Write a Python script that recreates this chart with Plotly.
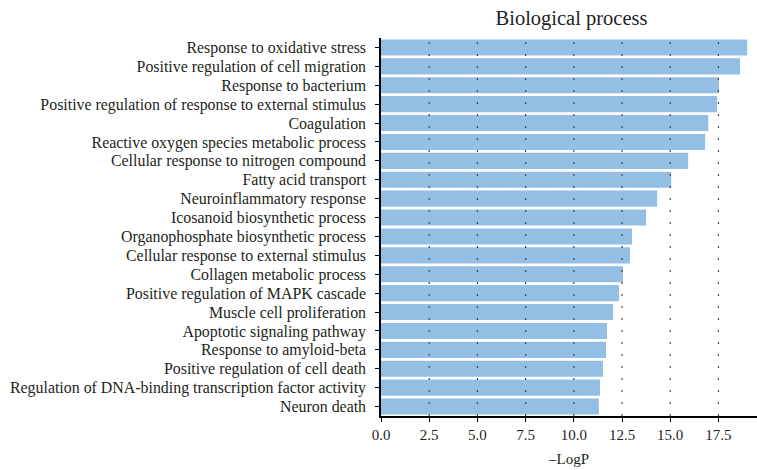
import plotly.graph_objects as go

categories = [
    "Response to oxidative stress",
    "Positive regulation of cell migration",
    "Response to bacterium",
    "Positive regulation of response to external stimulus",
    "Coagulation",
    "Reactive oxygen species metabolic process",
    "Cellular response to nitrogen compound",
    "Fatty acid transport",
    "Neuroinflammatory response",
    "Icosanoid biosynthetic process",
    "Organophosphate biosynthetic process",
    "Cellular response to external stimulus",
    "Collagen metabolic process",
    "Positive regulation of MAPK cascade",
    "Muscle cell proliferation",
    "Apoptotic signaling pathway",
    "Response to amyloid-beta",
    "Positive regulation of cell death",
    "Regulation of DNA-binding transcription factor activity",
    "Neuron death",
]
neg_log_p = [18.99, 18.62, 17.53, 17.43, 16.97, 16.81, 15.93, 15.05, 14.32, 13.75,
             13.02, 12.92, 12.55, 12.34, 12.03, 11.72, 11.67, 11.51, 11.36, 11.30]
x_ticks = [0.0, 2.5, 5.0, 7.5, 10.0, 12.5, 15.0, 17.5]

FONT = "Liberation Serif"
TXT = "#231f20"

fig = go.Figure(go.Bar(
    x=neg_log_p, y=categories, orientation="h",
    marker=dict(color="#93bfe5", line=dict(width=0)),
))

# dotted vertical gridlines drawn above the bars
for t in x_ticks[1:]:
    fig.add_shape(type="line", xref="x", yref="y domain", x0=t, x1=t, y0=0, y1=1,
                  line=dict(color="#444444", width=1.2, dash="2px,10px"), layer="above")

fig.update_layout(
    width=757, height=470,
    margin=dict(l=381, r=0, t=38, b=54),
    plot_bgcolor="white", paper_bgcolor="white",
    bargap=0.15,
    showlegend=False,
    font=dict(family=FONT, color=TXT, size=15),
    title=dict(text="Biological process", x=0.755, xanchor="center", y=0.962, yanchor="middle",
               font=dict(family=FONT, size=20.5, color=TXT)),
)
fig.update_xaxes(
    range=[0, 19.5], tickvals=x_ticks, ticktext=[f"{v:.1f}" for v in x_ticks],
    showgrid=False, zeroline=False,
    showline=True, linecolor="black", linewidth=1.5,
    ticks="outside", ticklen=4, tickcolor="black",
    tickfont=dict(family=FONT, size=15, color=TXT),
    title=dict(text="–LogP", font=dict(family=FONT, size=15, color=TXT), standoff=12),
)
fig.update_yaxes(
    categoryorder="array", categoryarray=categories, autorange="reversed",
    tickmode="array", tickvals=categories, ticktext=categories,
    showgrid=False, zeroline=False,
    showline=True, linecolor="black", linewidth=1.5,
    ticks="outside", ticklen=4, tickcolor="black",
    ticklabelstandoff=6,
    tickfont=dict(family=FONT, size=15.9, color=TXT),
)

fig.write_html("out.html")
